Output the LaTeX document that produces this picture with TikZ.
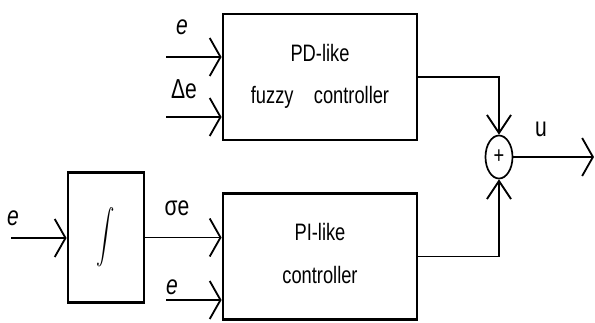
\documentclass[tikz,border=0pt]{standalone}
\usepackage{fontspec}
\setmainfont{Liberation Sans}
\usetikzlibrary{arrows.meta,shapes.geometric}
\newcommand{\tallish}[1]{\scalebox{1}[1.3]{#1}}
\tikzset{
  block/.style={rectangle, draw, line width=2pt, minimum width=4.85cm, minimum height=3.15cm, inner sep=0pt},
  intblock/.style={rectangle, draw, line width=2pt, minimum width=1.9cm, minimum height=3.25cm, inner sep=0pt},
  summer/.style={ellipse, draw, line width=1.2pt, minimum width=0.675cm, minimum height=1.075cm, inner sep=0pt},
  sigin/.style={line width=1.3pt, -{Straight Barb[length=2.7mm,width=9.5mm]}},
  sigdown/.style={line width=1.3pt, -{Straight Barb[length=4.5mm,width=6mm]}},
  siglabel/.style={inner sep=0pt, font=\fontsize{15}{17}\selectfont}
}
\begin{document}
\begin{tikzpicture}[x=0.025cm, y=-0.025cm, font=\fontsize{13}{15}\selectfont]
  \useasboundingbox (0,0) rectangle (595,323);

  \node[block] (pd) at (320,77) {\tallish{\begin{tabular}{@{}c@{}}PD-like\\[8pt]fuzzy\ \ \ \ controller\end{tabular}}};
  \node[block] (pi) at (320,256.5) {\tallish{\begin{tabular}{@{}c@{}}PI-like\\[8pt]controller\end{tabular}}};
  \node[intblock] (integ) at (106,237.5) {\scalebox{1.3}[1.9]{$\displaystyle\int$}};
  \node[summer] (sum) at (499,157) {\tallish{+}};

  \coordinate (ein) at (11,238);
  \coordinate (pdin1) at (166,57);
  \coordinate (pdin2) at (166,117);
  \coordinate (piin2) at (166,300);
  \coordinate (uout) at (594,157);

  \draw[sigin] (pdin1) -- (pdin1 -| pd.west);
  \draw[sigin] (pdin2) -- (pdin2 -| pd.west);
  \draw[sigin] (ein) -- (ein -| integ.west);
  \draw[sigin] (integ.east) -- (integ.east -| pi.west);
  \draw[sigin] (piin2) -- (piin2 -| pi.west);
  \draw[sigdown] (pd.east) -| (sum.north);
  \draw[sigdown] (pi.east) -| (sum.south);
  \draw[sigin] (sum.east) -- (uout);

  \node[siglabel] (le1) at (182,27) {\tallish{\itshape e}};
  \node[siglabel] (lde) at (184,89) {\tallish{Δe}};
  \node[siglabel] (le0) at (13,218) {\tallish{\itshape e}};
  \node[siglabel] (lse) at (177,208) {\tallish{σe}};
  \node[siglabel] (le2) at (172,287) {\tallish{\itshape e}};
  \node[siglabel] (lu) at (541,129) {\tallish{u}};
\end{tikzpicture}
\end{document}
